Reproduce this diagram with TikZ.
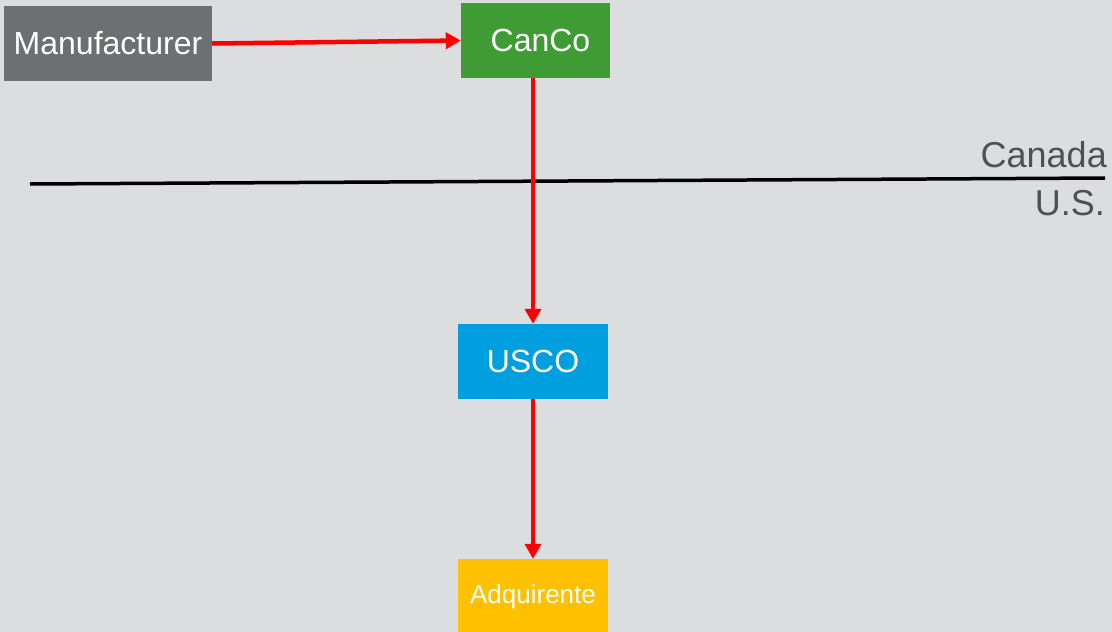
\documentclass[tikz,border=0pt]{standalone}
\usepackage{fontspec}
\setmainfont{Liberation Sans}
\usetikzlibrary{arrows.meta}
\definecolor{bg}{HTML}{DCDDDF}
\definecolor{mangray}{HTML}{6D7073}
\definecolor{cangreen}{HTML}{3F9C35}
\definecolor{usblue}{HTML}{009FDF}
\definecolor{adqyellow}{HTML}{FFC000}
\definecolor{labelgray}{HTML}{505050}
\tikzset{
  box/.style={inner sep=0pt, minimum width=150pt, minimum height=75pt, text=white,
    font=\fontsize{32}{38}\selectfont},
  flow/.style={draw=red, line width=4.5pt, -{Triangle[length=15pt,width=16pt]}},
  border/.style={draw=black, line width=3.5pt},
  region/.style={text=labelgray, inner sep=0pt, font=\fontsize{36}{42}\selectfont}
}
\begin{document}
\begin{tikzpicture}[x=1pt,y=-1pt]
\fill[bg] (0,0) rectangle (1112,632);
\useasboundingbox (0,0) rectangle (1112,632);
\coordinate (bl) at (30,184);
\coordinate (br) at (1105,178);
\draw[border] (bl) -- (br);
\node[region, anchor=base east] (canada) at (1107,167) {Canada};
\node[region, anchor=base east] (us) at (1105,215) {U.S.};
\node[box, fill=mangray, minimum width=208pt] (man) at (108,43.5) {Manufacturer};
\node[box, fill=cangreen, minimum width=149pt] (canco) at (535.5,40.5) {\hspace*{10pt}CanCo};
\node[box, fill=usblue] (usco) at (533,361.5) {USCO};
\node[box, fill=adqyellow, font=\fontsize{26}{31}\selectfont] (adq) at (533,596.5) {Adquirente};
\draw[flow] (man.east) -- (canco.west);
\draw[flow] (canco.south -| usco.north) -- (usco.north);
\draw[flow] (usco.south) -- (adq.north);
\end{tikzpicture}
\end{document}
